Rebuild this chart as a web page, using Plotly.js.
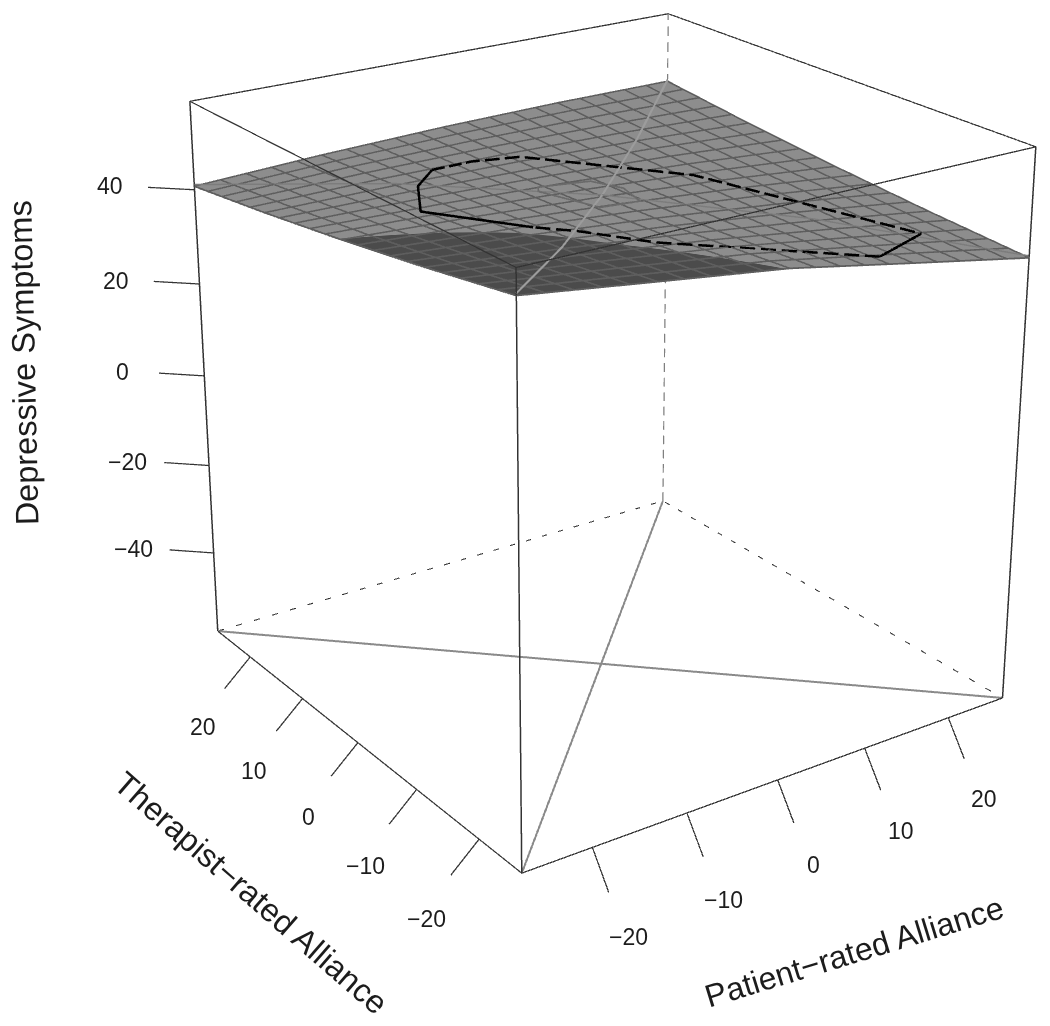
<!DOCTYPE html>
<html><head><meta charset="utf-8">
<script src="https://cdn.plot.ly/plotly-3.0.1.min.js"></script>
<style>html,body{margin:0;padding:0;width:1050px;height:1026px;overflow:hidden;background:#fff}
#plot{position:absolute;left:-618px;top:-837px;width:2406px;height:2406px}</style>
</head><body><div id="plot"></div>
<script>
// Values
const patientLim = [-27.2, 26.7];
const therapistLim = [-26.5, 26.5];
const symptomLim = [-58.3, 58.3];
const patientTicks = [-20, -10, 0, 10, 20];
const therapistTicks = [-20, -10, 0, 10, 20];
const symptomTicks = [-40, -20, 0, 20, 40];
const surfaceX = [-27.2, -13.73, -0.25, 13.23, 26.7];
const surfaceY = [-26.5, -13.25, 0, 13.25, 26.5];
const surfaceZ = [
  [53.2, 49.56, 46.0, 41.01, 36.1],
  [49.53, 47.1, 44.25, 40.98, 37.28],
  [46.2, 44.99, 43.35, 41.29, 38.8],
  [43.23, 43.23, 42.8, 41.95, 40.68],
  [40.6, 41.81, 42.6, 42.96, 42.9]
];
const congruenceZ = [53.2, 47.1, 43.35, 41.95, 42.9];
const incongruenceZ = [40.6, 43.23, 43.35, 40.98, 36.1];
const hullSolidX = [-12.2, -17.2, -12.86, -8.93];
const hullSolidY = [-6.65, 3.4, 10.8, 14.65];
const hullSolidZ = [45.8, 44.77, 43.6, 43.1];
const hullDashX = [-8.93, -4.4, 0.2, 11.14, 20.4];
const hullDashY = [14.65, 15, 13.8, 1.6, -19.4];
const hullDashZ = [43.1, 42.85, 42.73, 41.67, 38.6];
const hullLowerX = [10.6, -5.7, -9.6, -12.2];
const hullLowerY = [-25.2, -15.4, -9.4, -6.65];
const hullLowerZ = [42.01, 45.6, 45.7, 45.8];
const hullEndX = [20.4, 10.6];
const hullEndY = [-19.4, -25.2];
const hullEndZ = [38.6, 42.01];
const bagX = [-4.6, -3.8, 1.48, 2.8, 1.58, -2.9, -4.6];
const bagY = [3.7, 5, 4.3, 1, -3.2, -3.4, 3.7];
const bagZ = [43.6, 43.4, 42.9, 42.9, 43.3, 44, 43.6];
const gridCells = 20;

const [x0, x1] = patientLim, [y0, y1] = therapistLim, [z0, z1] = symptomLim;
const line = (x, y, z, color, width, dash) => ({type:'scatter3d', mode:'lines', x, y, z, hoverinfo:'skip',
  showlegend:false, connectgaps:false, line:{color, width, dash:dash||'solid'}});
const lift = (a, d) => a.map(v => v + d);
// break a polyline into dashes, on/off measured along its length in axis units
const dashes = (xs, ys, zs, on, off) => {
  const X = [], Y = [], Z = [];
  let phase = 0;
  for (let i = 0; i < xs.length-1; i++) {
    const dx = xs[i+1]-xs[i], dy = ys[i+1]-ys[i], dz = zs[i+1]-zs[i];
    const len = Math.hypot(dx, dy, dz);
    let s = 0;
    while (s < len) {
      const period = on + off, inOn = phase < on;
      const step = Math.min(len - s, inOn ? on - phase : period - phase);
      if (inOn) {
        X.push(xs[i]+dx*s/len, xs[i]+dx*(s+step)/len, null);
        Y.push(ys[i]+dy*s/len, ys[i]+dy*(s+step)/len, null);
        Z.push(zs[i]+dz*s/len, zs[i]+dz*(s+step)/len, null);
      }
      s += step; phase = (phase + step) % period;
    }
  }
  return [X, Y, Z];
};
const traces = [];
traces.push({type:'surface', x:surfaceX, y:surfaceY, z:surfaceZ, surfacecolor:surfaceZ, showscale:false, hoverinfo:'skip',
  cmin:36, cmax:54, colorscale:[[0,'#8d8d8d'],[0.561,'#8d8d8d'],[0.562,'#4b4b4b'],[1,'#4b4b4b']],
  lighting:{ambient:1, diffuse:0, specular:0, roughness:1, fresnel:0}});
// mesh lines of the surface, laid on its knots
const between = (axis, v) => { let i = 0; while (i < axis.length-2 && v > axis[i+1]) i++; return [i, (v-axis[i])/(axis[i+1]-axis[i])]; };
const gx = [], gy = [], gz = [];
for (let k = 0; k <= gridCells; k++) {
  const yv = y0 + (y1-y0)*k/gridCells, [r, f] = between(surfaceY, yv);
  surfaceX.forEach((xv, c) => { gx.push(xv); gy.push(yv); gz.push(surfaceZ[r][c]*(1-f)+surfaceZ[r+1][c]*f+0.12); });
  gx.push(null); gy.push(null); gz.push(null);
  const xv = x0 + (x1-x0)*k/gridCells, [c2, f2] = between(surfaceX, xv);
  surfaceY.forEach((yy, r2) => { gx.push(xv); gy.push(yy); gz.push(surfaceZ[r2][c2]*(1-f2)+surfaceZ[r2][c2+1]*f2+0.12); });
  gx.push(null); gy.push(null); gz.push(null);
}
traces.push(line(gx,gy,gz,'#5e5e5e',3.5));
const edge = '#333333';
// solid box edges
traces.push(line([x0,x1,x1,x0,x0],[y1,y1,y0,y0,y1],[z1,z1,z1,z1,z1],edge,2.5));   // top
traces.push(line([x0,x0],[y0,y0],[z0,z1],edge,3));
traces.push(line([x1,x1],[y0,y0],[z0,z1],edge,3));
traces.push(line([x0,x0],[y1,y1],[z0,z1],edge,3));
traces.push(line([x0,x0,x1],[y1,y0,y0],[z0,z0,z0],edge,2.5));
// hidden box edges
const backEdge = dashes([x1,x1],[y1,y1],[z0,z1],2.2,1.4);
traces.push(line(backEdge[0],backEdge[1],backEdge[2],'#808080',2.4));
traces.push(line([x0,x1,x1],[y1,y1,y0],[z0,z0,z0],'#333333',2,'dash'));
// floor diagonals
traces.push(line(surfaceX,surfaceY,surfaceX.map(()=>z0),'#8a8a8a',4));
traces.push(line(surfaceX,surfaceY.slice().reverse(),surfaceX.map(()=>z0),'#8a8a8a',4));
// surface lines
traces.push(line(surfaceX,surfaceY,lift(congruenceZ,0.5),'#9c9c9c',4));
traces.push(line(surfaceX,surfaceY.slice().reverse(),lift(incongruenceZ,0.5),'#7c7c7c',3));
traces.push(line(bagX,bagY,lift(bagZ,0.5),'#6a6a6a',3.5));
const hd = dashes(hullDashX,hullDashY,lift(hullDashZ,0.7),1.45,0.5);
const hl = dashes(hullLowerX,hullLowerY,lift(hullLowerZ,0.7),1.3,0.5);
traces.push(line(hullSolidX,hullSolidY,lift(hullSolidZ,0.7),'#000000',5));
traces.push(line(hd[0],hd[1],hd[2],'#000000',5));
traces.push(line(hl[0],hl[1],hl[2],'#000000',5));
traces.push(line(hullEndX,hullEndY,lift(hullEndZ,0.7),'#000000',5));
// ticks
patientTicks.forEach(t=>traces.push(line([t,t],[y0,y0-2.4],[z0,z0-6.9],edge,2.5)));
therapistTicks.forEach(t=>traces.push(line([x0,x0-2.9],[t,t],[z0,z0-5.5],edge,2.5)));
symptomTicks.forEach(t=>traces.push(line([x0,x0-3.2],[y1,y1+3],[t,t],edge,2.5)));

const txt = '#1c1c1c', fam = 'Liberation Sans, Arial, sans-serif';
const ann = (x,y,z,text,size,angle) => ({x,y,z,text,showarrow:false,textangle:angle||0,xanchor:'center',yanchor:'middle',
  font:{family:fam,size,color:txt}});
const lab = v => v<0 ? '\u2212'+(-v) : String(v);
const annotations = [];
patientTicks.forEach(t=>annotations.push(ann(t,y0-5.3,z0-13,lab(t),23)));
therapistTicks.forEach(t=>annotations.push(ann(x0-5.4,t,z0-12.9,lab(t),23)));
symptomTicks.forEach(t=>annotations.push(ann(x0-6.2,y1+4.7,t+0.4,lab(t),23)));
annotations.push(ann(0,y0-11,z0-25.6,'Patient\u2212rated Alliance',32,-17));
annotations.push(ann(x0-11.6,0,z0-25.4,'Therapist\u2212rated Alliance',32.5,41));
annotations.push(ann(x0-12.87,y1+11.9,0.5,'Depressive Symptoms',32.5,-91.3));

const pad = 1.5094;
const widened = ([a,b]) => [(a+b)/2-pad*(b-a)/2, (a+b)/2+pad*(b-a)/2];
const hiddenAxis = r => ({range:widened(r), autorange:false, visible:false, showgrid:false, showline:false, zeroline:false,
  showticklabels:false, showbackground:false, showspikes:false, title:{text:''}});
const layout = {width:2406, height:2406, margin:{l:0,r:0,t:0,b:0}, paper_bgcolor:'#ffffff', showlegend:false,
  scene:{domain:{x:[0,1],y:[0,1]}, aspectmode:'manual', aspectratio:{x:pad,y:pad,z:pad},
    xaxis:hiddenAxis(patientLim), yaxis:hiddenAxis(therapistLim), zaxis:hiddenAxis(symptomLim),
    camera:{eye:{x:-2.633,y:-3.758,z:1.911}, center:{x:-0.01,y:0.036,z:0.06}, up:{x:0,y:0,z:1}, projection:{type:'perspective'}},
    annotations}};
Plotly.newPlot('plot', traces, layout, {displayModeBar:false, plotGlPixelRatio:1});
</script></body></html>
